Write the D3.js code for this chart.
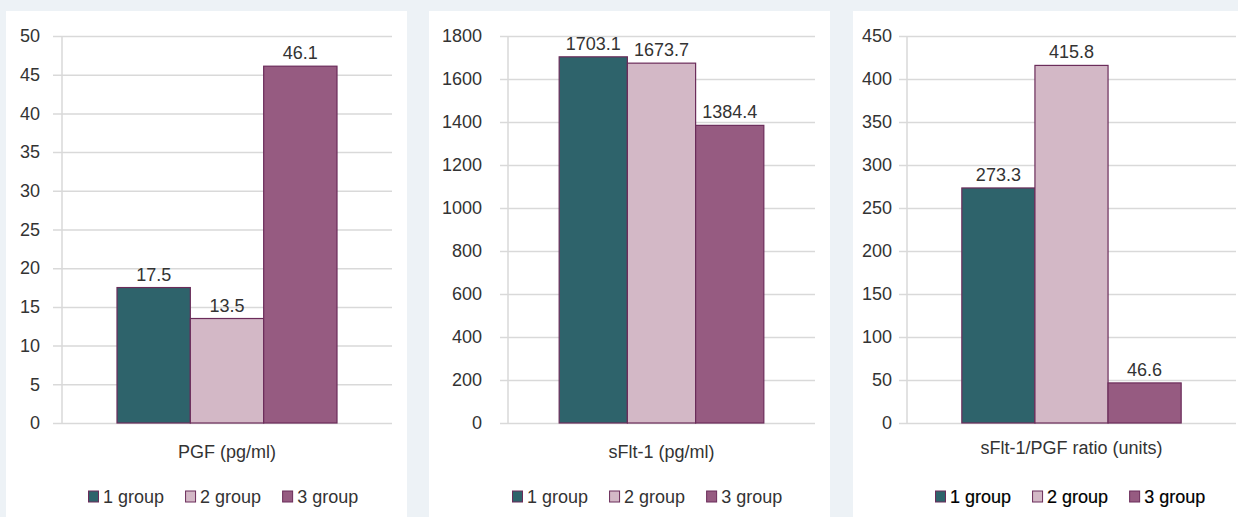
<!DOCTYPE html>
<html>
<head>
<meta charset="utf-8">
<script src="https://cdn.jsdelivr.net/npm/d3@7/dist/d3.min.js"></script>
<style>
  html, body { margin: 0; padding: 0; background: #edf2f6; }
  svg { display: block; }
  text { font-family: "Liberation Sans", Arial, sans-serif; fill: #333; }
</style>
</head>
<body>
<svg id="chart" width="1238" height="517"></svg>
<script>
// ---- data ----
const groups = ["1 group", "2 group", "3 group"];
const categories = ["PGF (pg/ml)", "sFlt-1 (pg/ml)", "sFlt-1/PGF ratio (units)"];
const pgfValues = [17.5, 13.5, 46.1];
const sfltValues = [1703.1, 1673.7, 1384.4];
const ratioValues = [273.3, 415.8, 46.6];
const pgfTicks = [0, 5, 10, 15, 20, 25, 30, 35, 40, 45, 50];
const sfltTicks = [0, 200, 400, 600, 800, 1000, 1200, 1400, 1600, 1800];
const ratioTicks = [0, 50, 100, 150, 200, 250, 300, 350, 400, 450];

// ---- style / layout ----
const colors = ["#2e636b", "#d3b8c6", "#965b81"];
const barStroke = "#6b2c5a";
const gridColor = "#d9d9d9";
const plotTop = 36, plotBottom = 423;

const panels = [
  { cat: categories[0], values: pgfValues, ticks: pgfTicks,
    bgX: 6, bgW: 401, axisX: 62, gridLeft: 53, right: 392, labelRight: 40, legendX: 88, catY: 452, legendBold: false },
  { cat: categories[1], values: sfltValues, ticks: sfltTicks,
    bgX: 429, bgW: 401, axisX: 508, gridLeft: 500, right: 815, labelRight: 482, legendX: 512, catY: 452, legendBold: false },
  { cat: categories[2], values: ratioValues, ticks: ratioTicks,
    bgX: 853, bgW: 400, axisX: 907, gridLeft: 899, right: 1236, labelRight: 892, legendX: 935, catY: 448, legendBold: true }
];

const svg = d3.select("#chart");
const fontSize = 18;

panels.forEach(p => {
  const g = svg.append("g");
  g.append("rect").attr("x", p.bgX).attr("y", 11).attr("width", p.bgW).attr("height", 520).attr("fill", "#fff");

  const y = d3.scaleLinear().domain([0, d3.max(p.ticks)]).range([plotBottom, plotTop]);
  const x0 = d3.scaleBand().domain([p.cat]).range([p.axisX, p.right]).paddingInner(0).paddingOuter(0.25);
  const xg = d3.scaleBand().domain(groups).range([0, x0.bandwidth()]);

  // gridlines + tick labels via axis
  const yAxis = d3.axisLeft(y).tickValues(p.ticks).tickFormat(d3.format("d"))
    .tickSize(-(p.right - p.gridLeft)).tickSizeOuter(0).tickPadding(p.gridLeft - p.labelRight);
  const ax = g.append("g").attr("transform", `translate(${p.gridLeft},0)`).call(yAxis);
  ax.select(".domain").remove();
  ax.selectAll(".tick line").attr("stroke", gridColor).attr("stroke-width", 1.5);
  ax.selectAll(".tick text").attr("fill", "#333").style("font-size", fontSize + "px")
    .style("font-family", '"Liberation Sans", Arial, sans-serif');

  // vertical axis line
  g.append("line").attr("x1", p.axisX).attr("x2", p.axisX).attr("y1", plotTop).attr("y2", plotBottom)
    .attr("stroke", gridColor).attr("stroke-width", 1.5);

  // bars
  const data = groups.map((gr, i) => ({ group: gr, value: p.values[i], color: colors[i] }));
  const bars = g.append("g").attr("transform", `translate(${x0(p.cat)},0)`);
  bars.selectAll("rect").data(data).join("rect")
    .attr("x", d => xg(d.group))
    .attr("width", xg.bandwidth())
    .attr("y", d => y(d.value))
    .attr("height", d => y(0) - y(d.value))
    .attr("fill", d => d.color)
    .attr("stroke", barStroke).attr("stroke-width", 1.2);
  bars.selectAll("text").data(data).join("text")
    .attr("x", d => xg(d.group) + xg.bandwidth() / 2)
    .attr("y", d => y(d.value) - 7)
    .attr("text-anchor", "middle")
    .style("font-size", fontSize + "px")
    .text(d => d.value.toFixed(1));

  // category label
  g.append("text").attr("x", x0(p.cat) + x0.bandwidth() / 2).attr("y", p.catY)
    .attr("text-anchor", "middle").attr("dominant-baseline", "central")
    .style("font-size", fontSize + "px").text(p.cat);

  // legend
  const leg = g.append("g").attr("transform", `translate(${p.legendX},497)`);
  let cx = 0;
  groups.forEach((gr, i) => {
    const it = leg.append("g").attr("transform", `translate(${cx},0)`);
    it.append("rect").attr("x", 0.5).attr("y", -6).attr("width", 10).attr("height", 11)
      .attr("fill", colors[i]).attr("stroke", barStroke).attr("stroke-width", 1);
    const t = it.append("text").attr("x", 15).attr("y", 0).attr("dominant-baseline", "central")
      .style("font-size", fontSize + "px").text(gr);
    if (p.legendBold) t.style("fill", "#000").style("stroke", "#000").style("stroke-width", "0.2px");
    cx += 15 + t.node().getComputedTextLength() + 21;
  });
});
</script>
</body>
</html>
